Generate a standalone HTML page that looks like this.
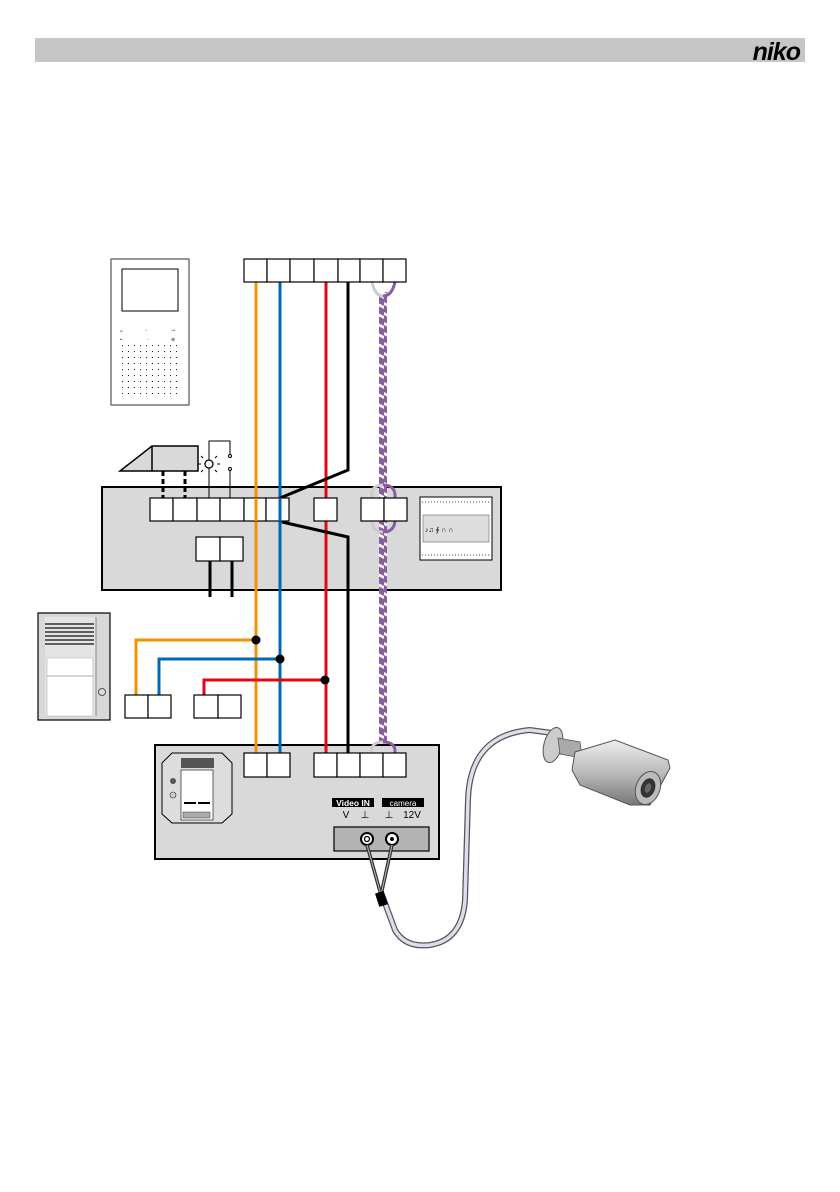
<!DOCTYPE html>
<html><head><meta charset="utf-8"><style>
html,body{margin:0;padding:0;background:#fff;}
svg{display:block;}
text{font-family:"Liberation Sans",sans-serif;}
</style></head><body>
<svg width="840" height="1192" viewBox="0 0 840 1192" xmlns="http://www.w3.org/2000/svg">
<defs>
<pattern id="tw" width="8" height="10" patternUnits="userSpaceOnUse">
<rect width="8" height="10" fill="#8a5ca0"/>
<path d="M0 2 L8 6 L8 9 L0 5Z" fill="#fff"/>
</pattern>
<linearGradient id="cam" x1="0" y1="0" x2="0" y2="1">
<stop offset="0" stop-color="#eee"/><stop offset=".5" stop-color="#bbb"/><stop offset="1" stop-color="#777"/>
</linearGradient>
</defs>
<!-- header -->
<rect x="35" y="38" width="770" height="24" fill="#c5c6c5"/>
<text x="800" y="60" text-anchor="end" font-size="25" font-weight="bold" font-style="italic" fill="#000" letter-spacing="-1">niko</text>

<!-- monitor -->
<rect x="111" y="259" width="78" height="146" fill="#fff" stroke="#555" stroke-width="1.2"/>
<rect x="122" y="269" width="56" height="42" fill="#fff" stroke="#000" stroke-width="1"/>
<g fill="#333" font-size="5"><text x="120" y="332">▵</text><text x="145" y="332">▫</text><text x="171" y="332">⊸</text><text x="120" y="341">▪</text><text x="147" y="341">◦</text><text x="171" y="341">⊕</text></g>
<g fill="#222">
<pattern id="dots" width="6" height="6" patternUnits="userSpaceOnUse" x="122" y="345"><rect width="1" height="1"/></pattern>
<rect x="122" y="345" width="58" height="52" fill="url(#dots)"/>
</g>

<!-- middle box -->
<rect x="102" y="487" width="399" height="103" fill="#d9d9d9" stroke="#000" stroke-width="2"/>
<!-- small module -->
<rect x="420" y="497" width="72" height="63" fill="#fff" stroke="#000" stroke-width="1"/>
<rect x="423" y="515" width="66" height="27" fill="#ddd" stroke="#666" stroke-width=".6"/>
<line x1="422" y1="502" x2="490" y2="502" stroke="#444" stroke-dasharray="1 2"/>
<line x1="422" y1="555" x2="490" y2="555" stroke="#444" stroke-dasharray="1 2"/>
<text x="425" y="532" font-size="7" fill="#000">♪♫ ∮ ∩ ∩</text>

<!-- lock -->
<polygon points="120,471 152,446 198,446 198,471" fill="#d9d9d9" stroke="#000" stroke-width="1.5"/>
<line x1="152" y1="446" x2="152" y2="471" stroke="#000" stroke-width="1.5"/>
<line x1="163" y1="471" x2="163" y2="498" stroke="#000" stroke-width="3" stroke-dasharray="5 3"/>
<line x1="185" y1="471" x2="185" y2="498" stroke="#000" stroke-width="3" stroke-dasharray="5 3"/>
<!-- lamp & switch -->
<polyline points="209,498 209,441 230,441 230,455" fill="none" stroke="#000" stroke-width="1"/>
<line x1="230" y1="469" x2="230" y2="498" stroke="#000" stroke-width="1"/>
<circle cx="230" cy="456" r="1.5" fill="#fff" stroke="#000"/>
<circle cx="230" cy="469" r="1.5" fill="#fff" stroke="#000"/>
<circle cx="209" cy="464" r="4" fill="#fff" stroke="#000" stroke-width="1.3"/>
<path d="M201 464h-3M217 464h3M203 458l-2-2M215 458l2-2M203 470l-2 2M215 470l2 2" stroke="#000"/>

<!-- door station -->
<rect x="38" y="613" width="72" height="107" fill="#d8d8d8" stroke="#000" stroke-width="1.2"/>
<rect x="45" y="617" width="51" height="99" fill="#e4e4e4"/>
<g stroke="#333" stroke-width="1.5">
<line x1="45" y1="624" x2="94" y2="624"/><line x1="45" y1="628" x2="94" y2="628"/><line x1="45" y1="632" x2="94" y2="632"/><line x1="45" y1="636" x2="94" y2="636"/><line x1="45" y1="640" x2="94" y2="640"/><line x1="45" y1="644" x2="94" y2="644"/>
</g>
<rect x="47" y="658" width="46" height="58" fill="#fff" stroke="#aaa" stroke-width=".5"/>
<line x1="47" y1="676" x2="93" y2="676" stroke="#aaa"/>
<line x1="96" y1="617" x2="96" y2="716" stroke="#888"/>
<circle cx="102" cy="692" r="3.5" fill="#ddd" stroke="#555"/>

<!-- bottom box -->
<rect x="155" y="745" width="284" height="114" fill="#d9d9d9" stroke="#000" stroke-width="2"/>
<polygon points="172,753 222,753 232,763 232,814 222,823 172,823 162,814 162,763" fill="#ddd" stroke="#000" stroke-width="1"/>
<rect x="181" y="758" width="33" height="10" fill="#555"/>
<rect x="181" y="770" width="32" height="50" fill="#fff" stroke="#000" stroke-width=".6"/>
<circle cx="173" cy="781" r="3" fill="#555"/>
<circle cx="173" cy="795" r="3" fill="#ccc" stroke="#333" stroke-width=".6"/>
<rect x="184" y="802" width="12" height="2" fill="#000"/><rect x="198" y="802" width="12" height="2" fill="#000"/>
<rect x="183" y="812" width="27" height="6" fill="#aaa" stroke="#333" stroke-width=".5"/>

<rect x="332" y="798" width="42" height="9" fill="#000"/>
<text x="353" y="806" font-size="8.5" fill="#fff" text-anchor="middle" font-weight="bold">Video IN</text>
<rect x="382" y="798" width="42" height="9" fill="#000"/>
<text x="403" y="806" font-size="8" fill="#fff" text-anchor="middle">camera</text>
<text x="346" y="818" font-size="10" fill="#000" text-anchor="middle">V</text>
<text x="365" y="818" font-size="10" fill="#000" text-anchor="middle">⊥</text>
<text x="389" y="818" font-size="10" fill="#000" text-anchor="middle">⊥</text>
<text x="412" y="818" font-size="10" fill="#000" text-anchor="middle">12V</text>
<rect x="334" y="827" width="95" height="24" fill="#b3b3b3" stroke="#000" stroke-width="1.2"/>
<circle cx="367" cy="839" r="6" fill="#fff" stroke="#000" stroke-width="2"/><circle cx="367" cy="839" r="2.5" fill="none" stroke="#000" stroke-width="1.3"/>
<circle cx="392" cy="839" r="6" fill="#fff" stroke="#000" stroke-width="2"/><circle cx="392" cy="839" r="2" fill="#000"/>

<!-- camera cable -->
<path d="M367 845 L381 895 M392 845 L381 895" stroke="#333" stroke-width="3.5" fill="none"/>
<path d="M367 845 L381 895 M392 845 L381 895" stroke="#bbb" stroke-width="1" fill="none"/>
<path d="M382 895 L395 930 Q405 948 430 945 Q462 940 465 900 L468 800 Q470 735 530 730 L552 733" stroke="#555" stroke-width="6" fill="none"/>
<path d="M382 895 L395 930 Q405 948 430 945 Q462 940 465 900 L468 800 Q470 735 530 730 L552 733" stroke="#dde" stroke-width="3.5" fill="none"/>
<rect x="377" y="892" width="9" height="14" fill="#000" transform="rotate(-18 381 899)"/>

<!-- camera -->
<g>
<ellipse cx="553" cy="745" rx="9" ry="18" fill="#ccc" stroke="#555" stroke-width="1" transform="rotate(15 553 745)"/>
<polygon points="558,738 580,742 582,758 560,754" fill="#aaa" stroke="#555" stroke-width=".8"/>
<polygon points="575,752 615,740 668,760 670,768 650,805 630,805 580,785 572,770" fill="url(#cam)" stroke="#555" stroke-width="1"/>
<ellipse cx="648" cy="788" rx="12" ry="17" fill="#bbb" stroke="#555" transform="rotate(20 648 788)"/>
<ellipse cx="648" cy="788" rx="7" ry="10" fill="#333" transform="rotate(20 648 788)"/>
<ellipse cx="648" cy="788" rx="3" ry="5" fill="#666" transform="rotate(20 648 788)"/>
</g>

<!-- wires -->
<g fill="none" stroke-width="3">
<line x1="256" y1="282" x2="256" y2="753" stroke="#f39200"/>
<polyline points="256,640 136,640 136,695" stroke="#f39200"/>
<line x1="280" y1="282" x2="280" y2="753" stroke="#0069b4"/>
<polyline points="280,659 159,659 159,695" stroke="#0069b4"/>
<line x1="326" y1="282" x2="326" y2="753" stroke="#e30613"/>
<polyline points="326,680 204,680 204,695" stroke="#e30613"/>
<polyline points="348,282 348,470 280,498" stroke="#000"/>
<polyline points="282,522 348,537 348,753" stroke="#000"/>
<line x1="210" y1="561" x2="210" y2="597" stroke="#000"/>
<line x1="232" y1="561" x2="232" y2="597" stroke="#000"/>
</g>
<circle cx="256" cy="640" r="4.5" fill="#000"/>
<circle cx="280" cy="659" r="4.5" fill="#000"/>
<circle cx="325" cy="680" r="4.5" fill="#000"/>
<!-- twisted pair -->
<rect x="379" y="292" width="8" height="450" fill="url(#tw)"/>
<g fill="none" stroke-width="3">
<path d="M372 282 Q383 300 383 292" stroke="#fff"/>
<path d="M372 282 Q375 296 383 296" stroke="#ccc"/><path d="M395 282 Q392 296 383 296" stroke="#8a5ca0"/>
<path d="M372 498 Q370 485 383 485 " stroke="#ccc"/><path d="M395 498 Q396 485 383 485" stroke="#8a5ca0"/>
<path d="M372 521 Q372 532 383 532" stroke="#ccc"/><path d="M395 521 Q394 532 383 532" stroke="#8a5ca0"/>
<path d="M372 753 Q370 742 383 742" stroke="#ccc"/><path d="M395 753 Q396 742 383 742" stroke="#8a5ca0"/>
</g>

<!-- terminals -->
<g fill="#fff" stroke="#000" stroke-width="1.2">
<rect x="244" y="259" width="23" height="23"/><rect x="267" y="259" width="23" height="23"/><rect x="290" y="259" width="24" height="23"/><rect x="314" y="259" width="24" height="23"/><rect x="338" y="259" width="22" height="23"/><rect x="360" y="259" width="23" height="23"/><rect x="383" y="259" width="23" height="23"/>
<rect x="150" y="498" width="23" height="23"/><rect x="173" y="498" width="24" height="23"/><rect x="197" y="498" width="23" height="23"/><rect x="220" y="498" width="24" height="23"/><rect x="244" y="498" width="22" height="23"/><rect x="266" y="498" width="23" height="23"/>
<rect x="314" y="498" width="23" height="23"/>
<rect x="361" y="498" width="23" height="23"/><rect x="384" y="498" width="23" height="23"/>
<rect x="196" y="537" width="24" height="24"/><rect x="220" y="537" width="23" height="24"/>
<rect x="125" y="695" width="23" height="23"/><rect x="148" y="695" width="23" height="23"/>
<rect x="194" y="695" width="24" height="23"/><rect x="218" y="695" width="23" height="23"/>
<rect x="244" y="753" width="23" height="24"/><rect x="267" y="753" width="23" height="24"/>
<rect x="314" y="753" width="23" height="24"/><rect x="337" y="753" width="23" height="24"/><rect x="360" y="753" width="23" height="24"/><rect x="383" y="753" width="23" height="24"/>
</g>
<!-- wires over terminals visual continuity in middle row -->
<line x1="256" y1="498" x2="256" y2="521" stroke="#f39200" stroke-width="3"/>
<line x1="280" y1="498" x2="280" y2="521" stroke="#0069b4" stroke-width="3"/>
<line x1="383" y1="498" x2="383" y2="521" stroke="#d9d9d9" stroke-width="0"/>
</svg>
</body></html>
